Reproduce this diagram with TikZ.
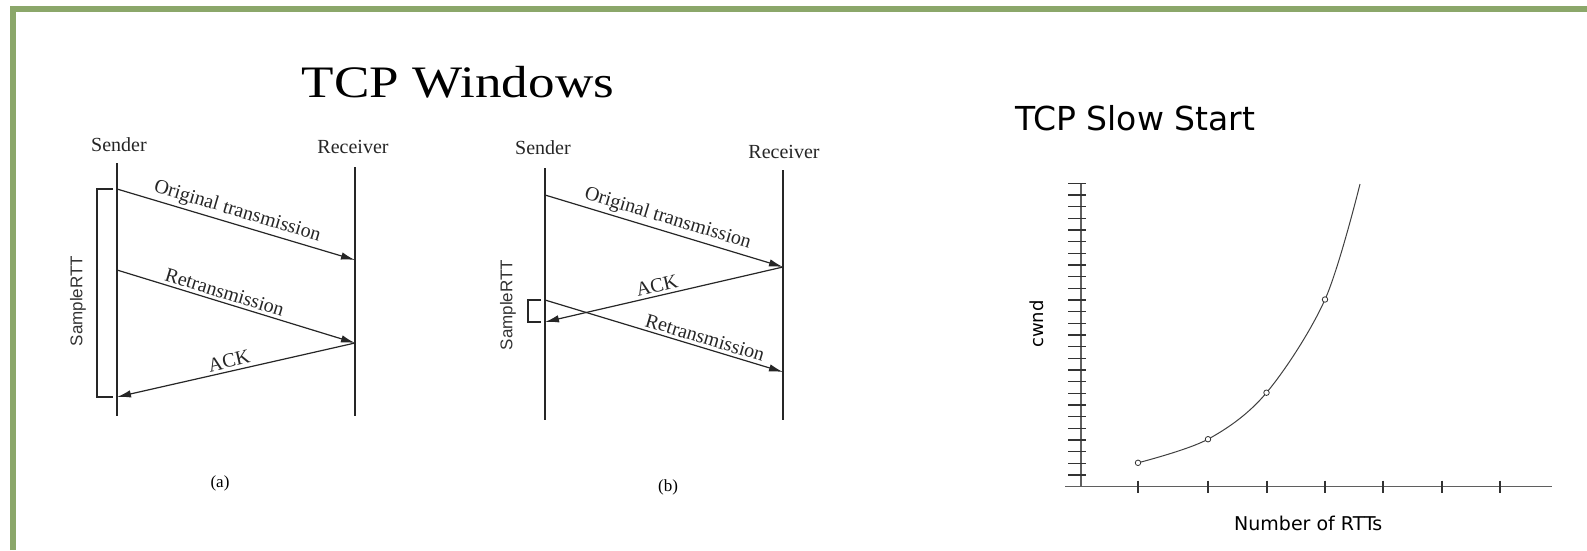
\documentclass[tikz,border=0pt]{standalone}
\usepackage{fontspec}
\setmainfont{Liberation Serif}
\newfontfamily\helvfont{Liberation Sans}
\newfontfamily\chartfont{DejaVu Sans}
\usetikzlibrary{arrows.meta}

\definecolor{framegreen}{RGB}{139,167,106}
\definecolor{axisgray}{RGB}{95,95,95}

\begin{document}
\begin{tikzpicture}[x=1pt,y=-1pt,
  lifeline/.style={line width=1.3pt, black!85},
  msg/.style={line width=1.2pt, black!85, -{Latex[length=14pt,width=7.5pt]}},
  rttbracket/.style={line width=1.2pt, black!85},
  actor/.style={font=\fontsize{20}{22}\selectfont, inner sep=0pt, text=black!85},
  msglabel/.style={font=\fontsize{20}{22}\selectfont, sloped, above=3pt, inner sep=0pt, text=black!85},
  rttlabel/.style={font=\helvfont\fontsize{17}{19}\selectfont, rotate=90, inner sep=0pt, text=black!80},
  caption/.style={font=\fontsize{17}{19}\selectfont, inner sep=0pt},
  axis/.style={line width=1.2pt, axisgray},
  tick/.style={line width=1.1pt, black!80},
  growth/.style={line width=1pt, black!75},
  sample/.style={circle, draw=black!80, fill=white, line width=0.8pt, inner sep=0pt, minimum size=5.5pt},
  charttext/.style={font=\chartfont\fontsize{18}{20}\selectfont, inner sep=0pt}
]
\useasboundingbox (0,0) rectangle (1587,550);
\fill[white] (0,0) rectangle (1587,550);

% slide frame
\draw[framegreen, line width=6pt] (13,550) -- (13,9) -- (1587,9);

% heading
\node[font=\fontsize{45}{50}\selectfont, anchor=base, xscale=1.18, inner sep=0pt] (title) at (458,97) {TCP Windows};

% ---------------- case (a) ----------------
\node[actor] (aS) at (119,145) {Sender};
\node[actor] (aR) at (353,147) {Receiver};
\coordinate (aStop) at (117,163);  \coordinate (aSbot) at (117,416);
\coordinate (aRtop) at (355,167);  \coordinate (aRbot) at (355,416);
\draw[lifeline] (aStop) -- (aSbot);
\draw[lifeline] (aRtop) -- (aRbot);

\coordinate (a1s) at (117,189); \coordinate (a1r) at (355,260);
\coordinate (a2s) at (117,270); \coordinate (a2r) at (355,343);
\coordinate (a3s) at (117,397);
\draw[msg] (a1s) -- node[msglabel, pos=0.49] (a1l) {Original transmission} (a1r);
\draw[msg] (a2s) -- node[msglabel, pos=0.44] (a2l) {Retransmission} (a2r);
\draw[msg] (a2r) -- node[msglabel, pos=0.52] (a3l) {ACK} (a3s);

\coordinate (abt) at (113,189); \coordinate (abb) at (113,397);
\draw[rttbracket] (abt) -- (97,189) -- (97,397) -- (abb);
\node[rttlabel] (art) at (78,301) {SampleRTT};
\node[caption] (acap) at (220,483) {(a)};

% ---------------- case (b) ----------------
\node[actor] (bS) at (543,148) {Sender};
\node[actor] (bR) at (784,152) {Receiver};
\coordinate (bStop) at (545,168);  \coordinate (bSbot) at (545,420);
\coordinate (bRtop) at (783,170);  \coordinate (bRbot) at (783,420);
\draw[lifeline] (bStop) -- (bSbot);
\draw[lifeline] (bRtop) -- (bRbot);

\coordinate (b1s) at (545,195); \coordinate (b1r) at (783,267);
\coordinate (b2s) at (545,322);
\coordinate (b3s) at (545,300); \coordinate (b3r) at (783,372);
\draw[msg] (b1s) -- node[msglabel, pos=0.5] (b1l) {Original transmission} (b1r);
\draw[msg] (b1r) -- node[msglabel, pos=0.52] (b2l) {ACK} (b2s);
\draw[msg] (b3s) -- node[msglabel, pos=0.66] (b3l) {Retransmission} (b3r);

\coordinate (bbt) at (541,300); \coordinate (bbb) at (541,322);
\draw[rttbracket] (bbt) -- (528,300) -- (528,322) -- (bbb);
\node[rttlabel] (brt) at (508,305) {SampleRTT};
\node[caption] (bcap) at (668,487) {(b)};

% ---------------- slow start chart ----------------
\node[charttext, font=\chartfont\fontsize{33}{36}\selectfont, anchor=base west] (sstitle) at (1015,130) {TCP Slow Start};

\coordinate (origin) at (1081,486.7);
\draw[axis] (1065,486.7) -- (1552,486.7);
\draw[axis] (1081,183) -- (origin);
\foreach \k in {1,...,26}
  \draw[tick] (1068,{486.7-\k*11.67}) -- (1086,{486.7-\k*11.67});
\foreach \xt in {1138,1208,1267,1325,1383,1442,1500}
  \draw[tick] (\xt,480.7) -- (\xt,492.7);

\coordinate (c1) at (1138,462.8);
\coordinate (c2) at (1208,439.2);
\coordinate (c3) at (1266.5,392.7);
\coordinate (c4) at (1325,299.5);
\coordinate (c5) at (1360,184.0);
\draw[growth] plot[smooth, tension=0.55] coordinates {(c1) (c2) (c3) (c4) (c5)};
\foreach \c in {c1,c2,c3,c4}
  \node[sample] (dot-\c) at (\c) {};

\node[charttext, rotate=90] (ylab) at (1036.5,324) {cwnd};
\node[charttext, font=\chartfont\fontsize{19}{21}\selectfont, anchor=base west] (xlab) at (1234,530) {Number of RTTs};
\end{tikzpicture}
\end{document}
